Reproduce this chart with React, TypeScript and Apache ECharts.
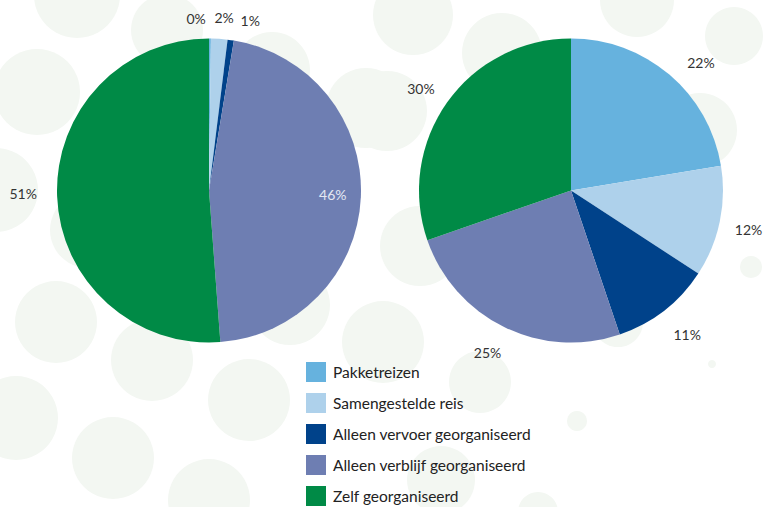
import React, { useEffect, useRef } from "react";
import * as echarts from "echarts";

const categories = [
  "Pakketreizen",
  "Samengestelde reis",
  "Alleen vervoer georganiseerd",
  "Alleen verblijf georganiseerd",
  "Zelf georganiseerd",
];
const leftValues = [0.2, 1.75, 0.67, 46.2, 51.2];
const rightValues = [22.4, 11.8, 10.6, 24.9, 30.3];

const colors = ["#66b2de", "#aed1eb", "#00428a", "#6e7eb2", "#008a46"];

// label nudges (px) per slice, styling only
const leftLabelShift = [[-14, 1], [3.5, 0], [16.5, 1.5], [-49, -4], [-13, -3]];
const rightLabelShift = [[11.5, 12], [-1.5, 1.5], [4, -1], [-3, -2], [-1, 4.5]];

const bubbles: [number, number, number][] = [
  [77, -5, 43], [167, 30, 36], [37, 92, 43], [-4, 190, 42], [272, 70, 38],
  [366, 108, 40], [56, 322, 41], [152, 360, 41], [16, 418, 42], [113, 458, 41],
  [249, 400, 41], [209, 500, 41], [290, 305, 40], [383, 342, 41], [413, 15, 40],
  [502, 53, 40], [637, 0, 37], [734, 36, 29], [387, 111, 40], [700, 130, 37],
  [420, 246, 40], [751, 267, 11], [480, 382, 31], [577, 421, 10], [712, 364, 4],
  [618, 322, 25], [441, 480, 34], [538, 512, 20], [88, 230, 38],
];

export default function App() {
  const ref = useRef<HTMLDivElement>(null);
  useEffect(() => {
    if (!ref.current) return;
    const chart = echarts.init(ref.current, undefined, { renderer: "svg" });
    const fmt = (p: any) => `${Math.round(p.value)}%`;
    const font = "Lato, 'Noto Sans', sans-serif";
    chart.setOption({
      animation: false,
      backgroundColor: "#ffffff",
      color: colors,
      graphic: {
        elements: bubbles.map(([x, y, r]) => ({
          type: "circle",
          shape: { cx: x, cy: y, r },
          style: { fill: "#f3f7f2" },
          silent: true,
          z: -10,
        })),
      },
      legend: {
        orient: "vertical",
        left: 306,
        top: 362,
        padding: 0,
        icon: "rect",
        itemWidth: 20,
        itemHeight: 20,
        itemGap: 11,
        selectedMode: false,
        textStyle: { fontFamily: font, fontSize: 15.5, color: "#222", padding: [10, 0, 0, 2] },
        data: categories.map((n, i) => ({ name: n, itemStyle: { color: colors[i] } })),
      },
      series: [
        {
          type: "pie",
          center: [209, 190.5],
          radius: 152,
          silent: true,
          label: { show: false },
          labelLine: { show: false },
          itemStyle: { borderWidth: 0 },
          data: categories.map((n, i) => ({ name: n, value: leftValues[i] })),
        },
        {
          type: "pie",
          center: [571, 190.5],
          radius: 152,
          silent: true,
          label: { show: false },
          labelLine: { show: false },
          itemStyle: { borderWidth: 0 },
          data: categories.map((n, i) => ({ name: n, value: rightValues[i] })),
        },
        {
          type: "pie",
          center: [209, 190.5],
          radius: [169, 171],
          silent: true,
          z: 3,
          itemStyle: { color: "transparent", borderWidth: 0 },
          label: {
            show: true,
            position: "inside",
            formatter: fmt,
            fontFamily: font,
            fontSize: 14,
            color: "#333",
          },
          labelLine: { show: false },
          labelLayout: (p: any) => ({ dx: leftLabelShift[p.dataIndex][0], dy: leftLabelShift[p.dataIndex][1] }),
          data: categories.map((n, i) => ({
            name: n,
            value: leftValues[i],
            label: i === 3 ? { color: "#e4e8f2" } : undefined,
          })),
        },
        {
          type: "pie",
          center: [571, 190.5],
          radius: [179, 181],
          silent: true,
          z: 3,
          itemStyle: { color: "transparent", borderWidth: 0 },
          label: {
            show: true,
            position: "inside",
            formatter: fmt,
            fontFamily: font,
            fontSize: 14,
            color: "#333",
          },
          labelLine: { show: false },
          labelLayout: (p: any) => ({ dx: rightLabelShift[p.dataIndex][0], dy: rightLabelShift[p.dataIndex][1] }),
          data: categories.map((n, i) => ({ name: n, value: rightValues[i] })),
        },
      ],
    });
    return () => chart.dispose();
  }, []);
  return (
    <div
      ref={ref}
      style={{ position: "fixed", left: 0, top: 0, width: 763, height: 507 }}
    />
  );
}
